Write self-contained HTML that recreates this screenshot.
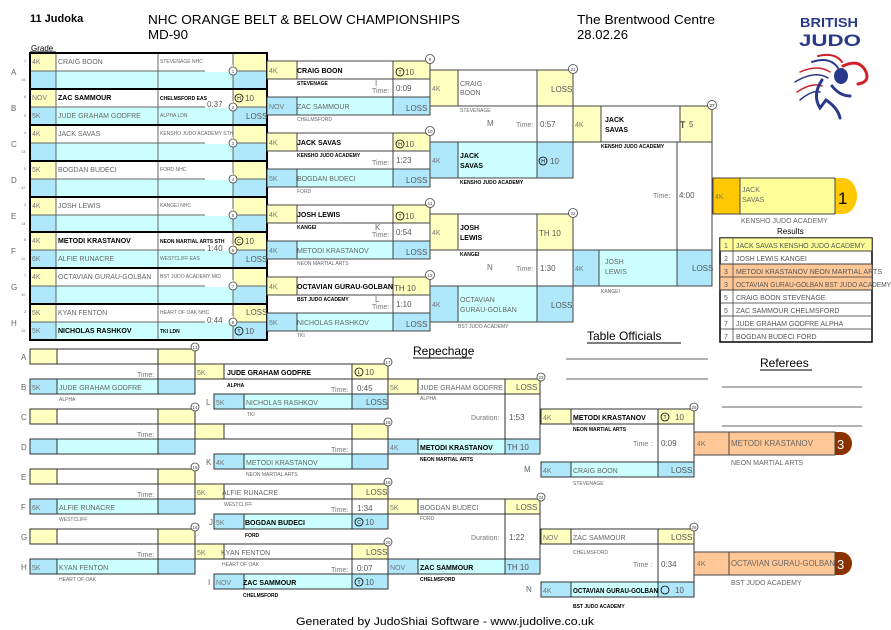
<!DOCTYPE html>
<html><head><meta charset="utf-8"><style>
body{margin:0;background:#fff}
svg{display:block}
text{font-family:"Liberation Sans",sans-serif}
.n{font-size:7px;fill:#666}
.nb{font-size:7px;font-weight:bold;fill:#000}
.c{font-size:5px;fill:#666}
.cb{font-size:5px;font-weight:bold;fill:#000}
.g{font-size:7px;fill:#777}
.s{font-size:8px;fill:#555}
.t{font-size:7px;fill:#777}
.tv{font-size:8px;fill:#555}
.m{font-size:4px;fill:#777}
.l{font-size:8px;fill:#666}
</style></head><body>
<svg width="891" height="630" viewBox="0 0 891 630" xmlns="http://www.w3.org/2000/svg">
<defs>
<g id="p1" stroke="#666" stroke-width="1">
<rect x="30" y="0" width="26" height="18" fill="#ffffc0"/><rect x="56" y="0" width="102" height="18" fill="#fff"/><rect x="158" y="0" width="75" height="18" fill="#fff"/><rect x="233" y="0" width="34" height="18" fill="#ffffc0"/>
<rect x="30" y="18" width="26" height="18" fill="#aee8fa"/><rect x="56" y="18" width="102" height="18" fill="#ccffff"/><rect x="158" y="18" width="75" height="18" fill="#ccffff"/><rect x="233" y="18" width="34" height="18" fill="#aee8fa"/>
<rect x="205" y="12" width="28" height="7" fill="#fff" stroke="none"/>
<rect x="30" y="0" width="237" height="36" fill="none" stroke="#000" stroke-width="2"/>
</g>
<g id="p2" stroke="#444" stroke-width="1">
<rect x="267" y="0" width="30" height="18" fill="#ffffc0"/><rect x="297" y="0" width="96" height="18" fill="#fff"/><rect x="393" y="0" width="37" height="18" fill="#ffffc0"/>
<rect x="393" y="18" width="37" height="18" fill="#fff"/>
<rect x="267" y="36" width="30" height="18" fill="#aee8fa"/><rect x="297" y="36" width="96" height="18" fill="#ccffff"/><rect x="393" y="36" width="37" height="18" fill="#aee8fa"/>
</g>
<g id="p3" stroke="#444" stroke-width="1">
<rect x="430" y="0" width="28" height="36" fill="#ffffc0"/><rect x="458" y="0" width="79" height="36" fill="#fff"/><rect x="537" y="0" width="36" height="36" fill="#ffffc0"/>
<rect x="537" y="36" width="36" height="36" fill="#fff"/>
<rect x="430" y="72" width="28" height="36" fill="#aee8fa"/><rect x="458" y="72" width="79" height="36" fill="#ccffff"/><rect x="537" y="72" width="36" height="36" fill="#aee8fa"/>
</g>
<g id="r1" stroke="#333" stroke-width="1">
<rect x="30" y="0" width="27" height="15" fill="#ffffc0"/><rect x="57" y="0" width="101" height="15" fill="#fff"/><rect x="158" y="0" width="37" height="15" fill="#ffffc0"/>
<rect x="158" y="15" width="37" height="15" fill="#fff"/>
<rect x="30" y="30" width="27" height="15" fill="#aee8fa"/><rect x="57" y="30" width="101" height="15" fill="#ccffff"/><rect x="158" y="30" width="37" height="15" fill="#aee8fa"/>
</g>
<g id="r2" stroke="#333" stroke-width="1">
<rect x="195" y="0" width="29" height="15" fill="#ffffc0"/><rect x="224" y="0" width="128" height="15" fill="#fff"/><rect x="352" y="0" width="36" height="15" fill="#ffffc0"/>
<rect x="352" y="15" width="36" height="15" fill="#fff"/>
<rect x="214" y="30" width="30" height="15" fill="#aee8fa"/><rect x="244" y="30" width="108" height="15" fill="#ccffff"/><rect x="352" y="30" width="36" height="15" fill="#aee8fa"/>
</g>
<g id="r3" stroke="#333" stroke-width="1">
<rect x="388" y="0" width="30" height="15" fill="#ffffc0"/><rect x="418" y="0" width="87" height="15" fill="#fff"/><rect x="505" y="0" width="35" height="15" fill="#ffffc0"/>
<rect x="505" y="15" width="35" height="45" fill="#fff"/>
<rect x="388" y="60" width="30" height="15" fill="#aee8fa"/><rect x="418" y="60" width="87" height="15" fill="#ccffff"/><rect x="505" y="60" width="35" height="15" fill="#aee8fa"/>
</g>
<g id="r4" stroke="#333" stroke-width="1">
<rect x="541" y="0" width="30" height="15" fill="#ffffc0"/><rect x="571" y="0" width="87" height="15" fill="#fff"/><rect x="658" y="0" width="36" height="15" fill="#ffffc0"/>
<rect x="658" y="15" width="36" height="38" fill="#fff"/>
<rect x="541" y="53" width="30" height="15" fill="#aee8fa"/><rect x="571" y="53" width="87" height="15" fill="#ccffff"/><rect x="658" y="53" width="36" height="15" fill="#aee8fa"/>
</g>
</defs>

<!-- header -->
<text x="30" y="22" font-size="11" font-weight="bold">11 Judoka</text>
<text x="148" y="24" font-size="13" textLength="312" lengthAdjust="spacingAndGlyphs">NHC ORANGE BELT &amp; BELOW CHAMPIONSHIPS</text>
<text x="148" y="39" font-size="13" textLength="40" lengthAdjust="spacingAndGlyphs">MD-90</text>
<text x="577" y="24" font-size="13" textLength="138" lengthAdjust="spacingAndGlyphs">The Brentwood Centre</text>
<text x="577" y="39" font-size="13" textLength="51" lengthAdjust="spacingAndGlyphs">28.02.26</text>
<text x="31" y="51" font-size="8">Grade</text>
<line x1="30" y1="52" x2="56" y2="52" stroke="#000"/>
<!-- logo -->
<text x="800" y="27" font-size="13" font-weight="bold" fill="#2a3a8a" textLength="58" lengthAdjust="spacingAndGlyphs">BRITISH</text>
<text x="799" y="46" font-size="17" font-weight="bold" fill="#2a3a8a" textLength="62" lengthAdjust="spacingAndGlyphs">JUDO</text>
<g fill="none" stroke-linecap="round">
<path d="M818 56 Q835 52 842 62" stroke="#d0202a" stroke-width="2"/>
<path d="M812 62 Q830 56 838 68" stroke="#2a3a8a" stroke-width="2"/>
<path d="M800 72 Q818 64 830 72" stroke="#d0202a" stroke-width="1.5"/>
<path d="M795 82 Q815 70 828 78" stroke="#2a3a8a" stroke-width="1.5"/>
<path d="M797 92 Q812 82 822 86" stroke="#d0202a" stroke-width="1.5"/>
<path d="M800 100 Q812 90 820 92" stroke="#2a3a8a" stroke-width="1.5"/>
<path d="M843 66 Q860 58 866 72 Q870 82 858 84" stroke="#d0202a" stroke-width="3"/>
<path d="M822 80 Q812 95 820 108 L826 100 Q838 108 840 118" stroke="#2a3a8a" stroke-width="3"/>
<path d="M832 86 Q840 96 850 96" stroke="#2a3a8a" stroke-width="3"/>
</g>
<ellipse cx="841" cy="76" rx="7" ry="8" fill="#2a3a8a"/>

<!-- Round 1 -->
<use href="#p1" y="53"/><use href="#p1" y="89"/><use href="#p1" y="125"/><use href="#p1" y="161"/>
<use href="#p1" y="197"/><use href="#p1" y="232"/><use href="#p1" y="268"/><use href="#p1" y="304"/>
<g class="l"><text x="11" y="75">A</text><text x="11" y="111">B</text><text x="11" y="147">C</text><text x="11" y="183">D</text><text x="11" y="219">E</text><text x="11" y="254">F</text><text x="11" y="290">G</text><text x="11" y="326">H</text></g>
<g class="m" font-size="5"><text x="24" y="62">1</text><text x="21" y="81">16</text><text x="24" y="98">8</text><text x="24" y="117">9</text><text x="24" y="134">4</text><text x="21" y="153">13</text><text x="24" y="170">5</text><text x="21" y="189">12</text><text x="24" y="206">3</text><text x="21" y="225">14</text><text x="24" y="241">6</text><text x="21" y="260">11</text><text x="24" y="277">7</text><text x="21" y="296">10</text><text x="24" y="313">2</text><text x="21" y="332">15</text></g>
<g class="g"><text x="32" y="64">4K</text><text x="32" y="100">NOV</text><text x="32" y="118">5K</text><text x="32" y="136">4K</text><text x="32" y="172">5K</text><text x="32" y="208">4K</text><text x="32" y="243">4K</text><text x="32" y="261">6K</text><text x="32" y="279">4K</text><text x="32" y="315">5K</text><text x="32" y="333">5K</text></g>
<text class="n" x="58" y="64">CRAIG BOON</text>
<text class="nb" x="58" y="100">ZAC SAMMOUR</text>
<text class="n" x="58" y="118">JUDE GRAHAM GODFRE</text>
<text class="n" x="58" y="136">JACK SAVAS</text>
<text class="n" x="58" y="172">BOGDAN BUDECI</text>
<text class="n" x="58" y="208">JOSH LEWIS</text>
<text class="nb" x="58" y="243">METODI KRASTANOV</text>
<text class="n" x="58" y="261">ALFIE RUNACRE</text>
<text class="n" x="58" y="279">OCTAVIAN GURAU-GOLBAN</text>
<text class="n" x="58" y="315">KYAN FENTON</text>
<text class="nb" x="58" y="333">NICHOLAS RASHKOV</text>
<g class="c" font-size="4.5"><text x="160" y="63">STEVENAGE NHC</text><text class="cb" x="160" y="100" font-size="4.5">CHELMSFORD EAS</text><text x="160" y="117">ALPHA LDN</text><text x="160" y="135">KENSHO JUDO ACADEMY STH</text><text x="160" y="171">FORD NHC</text><text x="160" y="207">KANGEI NHC</text><text class="cb" x="160" y="243" font-size="4.5">NEON MARTIAL ARTS STH</text><text x="160" y="260">WESTCLIFF EAS</text><text x="160" y="278">BST JUDO ACADEMY MID</text><text x="160" y="314">HEART OF OAK NHC</text><text class="cb" x="160" y="333" font-size="4.5">TKI LDN</text></g>
<g class="tv" font-size="7"><text x="207" y="107">0:37</text><text x="207" y="251">1:40</text><text x="207" y="323">0:44</text></g>
<g class="s"><text x="245" y="101">10</text><text x="246" y="119">LOSS</text><text x="245" y="244">10</text><text x="246" y="262">LOSS</text><text x="246" y="315">LOSS</text><text x="245" y="334">10</text></g>
<g fill="none" stroke="#000" stroke-width="0.8"><circle cx="239" cy="98" r="4"/><circle cx="239" cy="241" r="4"/><circle cx="239" cy="331" r="4"/></g>
<g font-size="5" text-anchor="middle"><text x="239" y="100">H</text><text x="239" y="243">C</text><text x="239" y="333">T</text></g>
<g fill="#fff" stroke="#444" stroke-width="0.8"><circle cx="233" cy="71" r="4"/><circle cx="233" cy="107" r="4"/><circle cx="233" cy="143" r="4"/><circle cx="233" cy="179" r="4"/><circle cx="233" cy="215" r="4"/><circle cx="233" cy="250" r="4"/><circle cx="233" cy="286" r="4"/><circle cx="233" cy="322" r="4"/></g>
<g font-size="4.5" text-anchor="middle" fill="#444"><text x="233" y="73">1</text><text x="233" y="109">2</text><text x="233" y="145">3</text><text x="233" y="181">4</text><text x="233" y="217">5</text><text x="233" y="252">6</text><text x="233" y="288">7</text><text x="233" y="324">8</text></g>

<!-- Round 2 -->
<use href="#p2" y="61"/><use href="#p2" y="133"/><use href="#p2" y="205"/><use href="#p2" y="277"/>
<g class="g"><text x="269" y="73">4K</text><text x="269" y="109">NOV</text><text x="269" y="145">4K</text><text x="269" y="181">5K</text><text x="269" y="217">4K</text><text x="269" y="253">4K</text><text x="269" y="289">4K</text><text x="269" y="325">5K</text></g>
<text class="nb" x="297" y="73">CRAIG BOON</text><text class="n" x="297" y="109">ZAC SAMMOUR</text>
<text class="nb" x="297" y="145">JACK SAVAS</text><text class="n" x="297" y="181">BOGDAN BUDECI</text>
<text class="nb" x="297" y="217">JOSH LEWIS</text><text class="n" x="297" y="253">METODI KRASTANOV</text>
<text class="nb" x="297" y="289" textLength="96" lengthAdjust="spacingAndGlyphs">OCTAVIAN GURAU-GOLBAN</text><text class="n" x="297" y="325">NICHOLAS RASHKOV</text>
<g class="cb"><text x="297" y="85">STEVENAGE</text><text x="297" y="157">KENSHO JUDO ACADEMY</text><text x="297" y="229">KANGEI</text><text x="297" y="301">BST JUDO ACADEMY</text></g>
<g class="c"><text x="297" y="121">CHELMSFORD</text><text x="297" y="193">FORD</text><text x="297" y="265">NEON MARTIAL ARTS</text><text x="297" y="337">TKI</text></g>
<g class="t"><text x="372" y="93">Time:</text><text x="372" y="165">Time:</text><text x="372" y="237">Time:</text><text x="372" y="309">Time:</text></g>
<g class="l"><text x="375" y="86">I</text><text x="375" y="230">K</text><text x="375" y="302">L</text></g>
<g class="tv"><text x="396" y="91">0:09</text><text x="396" y="163">1:23</text><text x="396" y="235">0:54</text><text x="396" y="307">1:10</text></g>
<g class="s"><text x="405" y="75">10</text><text x="406" y="111">LOSS</text><text x="405" y="147">10</text><text x="406" y="183">LOSS</text><text x="405" y="219">10</text><text x="406" y="255">LOSS</text><text x="394" y="291">TH 10</text><text x="406" y="327">LOSS</text></g>
<g fill="none" stroke="#000" stroke-width="0.8"><circle cx="400" cy="72" r="4"/><circle cx="400" cy="144" r="4"/><circle cx="400" cy="216" r="4"/></g>
<g font-size="5" text-anchor="middle"><text x="400" y="74">T</text><text x="400" y="146">H</text><text x="400" y="218">T</text></g>
<g fill="#fff" stroke="#444" stroke-width="0.8"><circle cx="430" cy="59" r="4.5"/><circle cx="430" cy="131" r="4.5"/><circle cx="430" cy="203" r="4.5"/><circle cx="430" cy="275" r="4.5"/></g>
<g font-size="4.5" text-anchor="middle" fill="#444"><text x="430" y="61">9</text><text x="430" y="133">10</text><text x="430" y="205">11</text><text x="430" y="277">12</text></g>

<!-- Round 3 -->
<use href="#p3" y="70"/><use href="#p3" y="214"/>
<g class="g"><text x="432" y="91">4K</text><text x="432" y="163">4K</text><text x="432" y="235">4K</text><text x="432" y="307">4K</text></g>
<text class="n" x="460" y="86">CRAIG</text><text class="n" x="460" y="95">BOON</text>
<text class="nb" x="460" y="158">JACK</text><text class="nb" x="460" y="168">SAVAS</text>
<text class="nb" x="460" y="230">JOSH</text><text class="nb" x="460" y="240">LEWIS</text>
<text class="n" x="460" y="302">OCTAVIAN</text><text class="n" x="460" y="312">GURAU-GOLBAN</text>
<g class="c"><text x="460" y="112">STEVENAGE</text><text x="458" y="328">BST JUDO ACADEMY</text></g>
<g class="cb"><text x="460" y="184">KENSHO JUDO ACADEMY</text><text x="460" y="256">KANGEI</text></g>
<g class="l"><text x="487" y="126">M</text><text x="487" y="270">N</text></g>
<g class="t"><text x="516" y="127">Time:</text><text x="516" y="271">Time:</text></g>
<g class="tv"><text x="540" y="127">0:57</text><text x="540" y="271">1:30</text></g>
<g class="s"><text x="551" y="92">LOSS</text><text x="550" y="164">10</text><text x="539" y="236">TH 10</text><text x="551" y="308">LOSS</text></g>
<circle cx="543" cy="161" r="4" fill="none" stroke="#000" stroke-width="0.8"/><text x="543" y="163" font-size="5" text-anchor="middle">H</text>
<g fill="#fff" stroke="#444" stroke-width="0.8"><circle cx="573" cy="69" r="4.5"/><circle cx="573" cy="213" r="4.5"/></g>
<g font-size="4.5" text-anchor="middle" fill="#444"><text x="573" y="71">21</text><text x="573" y="215">22</text></g>

<!-- Final -->
<g stroke="#444" stroke-width="1">
<rect x="573" y="106" width="28" height="36" fill="#ffffc0"/><rect x="601" y="106" width="79" height="36" fill="#fff"/><rect x="680" y="106" width="32" height="36" fill="#ffffc0"/>
<line x1="677" y1="142" x2="677" y2="250"/><line x1="712" y1="142" x2="712" y2="250"/>
<rect x="573" y="250" width="26" height="36" fill="#aee8fa"/><rect x="599" y="250" width="78" height="36" fill="#ccffff"/><rect x="677" y="250" width="35" height="36" fill="#aee8fa"/>
</g>
<text class="g" x="575" y="127">4K</text><text class="g" x="575" y="271">4K</text>
<text class="nb" x="605" y="122">JACK</text><text class="nb" x="605" y="132">SAVAS</text>
<text class="n" x="605" y="264">JOSH</text><text class="n" x="605" y="274">LEWIS</text>
<text class="cb" x="601" y="148">KENSHO JUDO ACADEMY</text><text class="c" x="601" y="293">KANGEI</text>
<text class="t" x="653" y="198">Time:</text><text class="tv" x="679" y="198">4:00</text>
<text x="680" y="128" font-size="9">T</text><text class="s" x="689" y="127">5</text><text class="s" x="692" y="271">LOSS</text>
<circle cx="712" cy="105" r="4.5" fill="#fff" stroke="#444" stroke-width="0.8"/><text x="712" y="107" font-size="4.5" text-anchor="middle">27</text>
<!-- winner -->
<path d="M835 178 h8 a14 18 0 0 1 0 36 h-8 z" fill="#ffc800"/>
<rect x="713" y="178" width="27" height="36" fill="#ffc800" stroke="#444"/><rect x="740" y="178" width="95" height="36" fill="#ffff99" stroke="#444"/>
<text class="g" x="715" y="199">4K</text><text class="n" x="742" y="192">JACK</text><text class="n" x="742" y="202">SAVAS</text>
<text x="838" y="204" font-size="17">1</text>
<text x="741" y="223" font-size="7" fill="#666">KENSHO JUDO ACADEMY</text>
<text x="777" y="234" font-size="8">Results</text>
<g stroke="#333" stroke-width="0.7" font-size="7">
<rect x="720" y="238" width="152" height="104" fill="#fff" stroke="#000" stroke-width="1.5"/>
<rect x="720" y="238" width="152" height="13" fill="#ffff99"/><rect x="720" y="264" width="152" height="26" fill="#ffc896"/>
<line x1="720" y1="251" x2="872" y2="251"/><line x1="720" y1="264" x2="872" y2="264"/><line x1="720" y1="277" x2="872" y2="277"/><line x1="720" y1="290" x2="872" y2="290"/><line x1="720" y1="303" x2="872" y2="303"/><line x1="720" y1="316" x2="872" y2="316"/><line x1="720" y1="329" x2="872" y2="329"/><line x1="733" y1="238" x2="733" y2="342"/>
</g>
<g font-size="7" fill="#555" stroke="none"><text x="724" y="248">1</text><text x="724" y="261">2</text><text x="724" y="274">3</text><text x="724" y="287">3</text><text x="724" y="300">5</text><text x="724" y="313">5</text><text x="724" y="326">7</text><text x="724" y="339">7</text>
<text x="736" y="248" textLength="129" lengthAdjust="spacingAndGlyphs">JACK SAVAS KENSHO JUDO ACADEMY</text><text x="736" y="261">JOSH LEWIS KANGEI</text><text x="736" y="274" textLength="146" lengthAdjust="spacingAndGlyphs">METODI KRASTANOV NEON MARTIAL ARTS</text><text x="736" y="287" textLength="155" lengthAdjust="spacingAndGlyphs">OCTAVIAN GURAU-GOLBAN BST JUDO ACADEMY</text><text x="736" y="300">CRAIG BOON STEVENAGE</text><text x="736" y="313">ZAC SAMMOUR CHELMSFORD</text><text x="736" y="326">JUDE GRAHAM GODFRE ALPHA</text><text x="736" y="339">BOGDAN BUDECI FORD</text></g>

<!-- Officials -->
<text x="587" y="340" font-size="12">Table Officials</text><line x1="587" y1="343" x2="681" y2="343" stroke="#000"/>
<g stroke="#666"><line x1="566" y1="359" x2="708" y2="359"/><line x1="566" y1="379" x2="708" y2="379"/>
<line x1="722" y1="387" x2="862" y2="387"/><line x1="722" y1="407" x2="862" y2="407"/><line x1="722" y1="426" x2="862" y2="426"/></g>
<text x="760" y="367" font-size="12">Referees</text><line x1="760" y1="370" x2="812" y2="370" stroke="#000"/>
<text x="413" y="355" font-size="12">Repechage</text><line x1="413" y1="358" x2="472" y2="358" stroke="#000"/>

<!-- Repechage R1 -->
<use href="#r1" y="349"/><use href="#r1" y="409"/><use href="#r1" y="469"/><use href="#r1" y="529"/>
<g class="l"><text x="21" y="360">A</text><text x="21" y="390">B</text><text x="21" y="420">C</text><text x="21" y="450">D</text><text x="21" y="480">E</text><text x="21" y="510">F</text><text x="21" y="540">G</text><text x="21" y="570">H</text></g>
<g class="t"><text x="137" y="377">Time:</text><text x="137" y="437">Time:</text><text x="137" y="497">Time:</text><text x="137" y="557">Time:</text></g>
<g class="g"><text x="32" y="390">5K</text><text x="32" y="510">6K</text><text x="32" y="570">5K</text></g>
<g class="n"><text x="59" y="390">JUDE GRAHAM GODFRE</text><text x="59" y="510">ALFIE RUNACRE</text><text x="59" y="570">KYAN FENTON</text></g>
<g class="c"><text x="59" y="401">ALPHA</text><text x="59" y="521">WESTCLIFF</text><text x="59" y="581">HEART OF OAK</text></g>
<g fill="#fff" stroke="#444" stroke-width="0.8"><circle cx="195" cy="347" r="4"/><circle cx="195" cy="407" r="4"/><circle cx="195" cy="467" r="4"/><circle cx="195" cy="527" r="4"/></g>
<g font-size="4.5" text-anchor="middle" fill="#444"><text x="195" y="349">13</text><text x="195" y="409">14</text><text x="195" y="469">15</text><text x="195" y="529">16</text></g>

<!-- Repechage R2 -->
<use href="#r2" y="364"/><use href="#r2" y="424"/><use href="#r2" y="484"/><use href="#r2" y="544"/>
<g class="g"><text x="197" y="375">5K</text><text x="197" y="495">6K</text><text x="197" y="555">5K</text><text x="216" y="405">5K</text><text x="216" y="465">4K</text><text x="216" y="525">5K</text><text x="216" y="585">NOV</text></g>
<text class="nb" x="227" y="375">JUDE GRAHAM GODFRE</text><text class="n" x="246" y="405">NICHOLAS RASHKOV</text>
<text class="n" x="246" y="465">METODI KRASTANOV</text>
<text class="n" x="222" y="495">ALFIE RUNACRE</text><text class="nb" x="245" y="525">BOGDAN BUDECI</text>
<text class="n" x="221" y="555">KYAN FENTON</text><text class="nb" x="243" y="585">ZAC SAMMOUR</text>
<g class="cb"><text x="227" y="387">ALPHA</text><text x="245" y="537">FORD</text><text x="243" y="597">CHELMSFORD</text></g>
<g class="c"><text x="247" y="416">TKI</text><text x="246" y="476">NEON MARTIAL ARTS</text><text x="224" y="506">WESTCLIFF</text><text x="222" y="566">HEART OF OAK</text></g>
<g class="l"><text x="206" y="405">L</text><text x="206" y="465">K</text><text x="209" y="525">J</text><text x="208" y="585">I</text></g>
<g class="t"><text x="331" y="392">Time:</text><text x="331" y="452">Time:</text><text x="331" y="512">Time:</text><text x="331" y="572">Time:</text></g>
<g class="tv"><text x="357" y="391">0:45</text><text x="357" y="511">1:34</text><text x="357" y="571">0:07</text></g>
<g class="s"><text x="365" y="375">10</text><text x="366" y="405">LOSS</text><text x="366" y="495">LOSS</text><text x="365" y="525">10</text><text x="366" y="555">LOSS</text><text x="365" y="585">10</text></g>
<g fill="none" stroke="#000" stroke-width="0.8"><circle cx="359" cy="372" r="4"/><circle cx="359" cy="522" r="4"/><circle cx="359" cy="582" r="4"/></g>
<g font-size="5" text-anchor="middle"><text x="359" y="374">L</text><text x="359" y="524">C</text><text x="359" y="584">T</text></g>
<g fill="#fff" stroke="#444" stroke-width="0.8"><circle cx="388" cy="362" r="4"/><circle cx="388" cy="422" r="4"/><circle cx="388" cy="482" r="4"/><circle cx="388" cy="542" r="4"/></g>
<g font-size="4.5" text-anchor="middle" fill="#444"><text x="388" y="364">17</text><text x="388" y="424">18</text><text x="388" y="484">19</text><text x="388" y="544">20</text></g>

<!-- Repechage R3 -->
<use href="#r3" y="379"/><use href="#r3" y="499"/>
<g class="g"><text x="390" y="390">5K</text><text x="390" y="450">4K</text><text x="390" y="510">5K</text><text x="390" y="570">NOV</text></g>
<text class="n" x="420" y="390">JUDE GRAHAM GODFRE</text><text class="nb" x="420" y="450">METODI KRASTANOV</text>
<text class="n" x="420" y="510">BOGDAN BUDECI</text><text class="nb" x="420" y="570">ZAC SAMMOUR</text>
<g class="c"><text x="420" y="400">ALPHA</text><text x="420" y="520">FORD</text></g>
<g class="cb"><text x="420" y="461">NEON MARTIAL ARTS</text><text x="420" y="581">CHELMSFORD</text></g>
<g class="t"><text x="471" y="420">Duration:</text><text x="471" y="540">Duration:</text></g>
<g class="tv"><text x="509" y="420">1:53</text><text x="509" y="540">1:22</text></g>
<g class="s"><text x="516" y="390">LOSS</text><text x="507" y="450">TH 10</text><text x="516" y="510">LOSS</text><text x="507" y="570">TH 10</text></g>
<g fill="#fff" stroke="#444" stroke-width="0.8"><circle cx="541" cy="377" r="4"/><circle cx="541" cy="497" r="4"/></g>
<g font-size="4.5" text-anchor="middle" fill="#444"><text x="541" y="379">23</text><text x="541" y="499">24</text></g>

<!-- Bronze -->
<use href="#r4" y="409"/><use href="#r4" y="529"/>
<g class="g"><text x="543" y="420">4K</text><text x="543" y="473">4K</text><text x="543" y="540">NOV</text><text x="543" y="593">4K</text></g>
<text class="nb" x="573" y="420">METODI KRASTANOV</text><text class="n" x="573" y="473">CRAIG BOON</text>
<text class="n" x="573" y="540">ZAC SAMMOUR</text><text class="nb" x="573" y="593" textLength="85" lengthAdjust="spacingAndGlyphs">OCTAVIAN GURAU-GOLBAN</text>
<text class="cb" x="573" y="431">NEON MARTIAL ARTS</text><text class="c" x="573" y="485">STEVENAGE</text>
<text class="c" x="573" y="554">CHELMSFORD</text><text class="cb" x="573" y="608">BST JUDO ACADEMY</text>
<g class="l"><text x="524" y="472">M</text><text x="526" y="592">N</text></g>
<g class="t"><text x="633" y="446">Time :</text><text x="633" y="567">Time :</text></g>
<g class="tv"><text x="661" y="446">0:09</text><text x="661" y="567">0:34</text></g>
<g class="s"><text x="675" y="420">10</text><text x="671" y="473">LOSS</text><text x="671" y="540">LOSS</text><text x="675" y="593">10</text></g>
<circle cx="665" cy="417" r="4" fill="none" stroke="#000" stroke-width="0.8"/><text x="665" y="419" font-size="5" text-anchor="middle">T</text>
<circle cx="665" cy="590" r="4" fill="none" stroke="#000" stroke-width="0.8"/>
<g fill="#fff" stroke="#444" stroke-width="0.8"><circle cx="694" cy="407" r="4"/><circle cx="694" cy="527" r="4"/></g>
<g font-size="4.5" text-anchor="middle" fill="#444"><text x="694" y="409">25</text><text x="694" y="529">26</text></g>
<!-- bronze results -->
<path d="M835 432 h6 a11 11.5 0 0 1 0 23 h-6 z" fill="#8b3300"/>
<rect x="694" y="432" width="35" height="23" fill="#ffc896" stroke="#444"/><rect x="729" y="432" width="106" height="23" fill="#ffc896" stroke="#444"/>
<text class="g" x="697" y="446">4K</text><text x="731" y="446" font-size="8" fill="#666">METODI KRASTANOV</text>
<text x="837" y="449" font-size="13" fill="#fff">3</text><text x="731" y="465" font-size="7" fill="#666">NEON MARTIAL ARTS</text>
<path d="M835 552 h6 a11 11.5 0 0 1 0 23 h-6 z" fill="#8b3300"/>
<rect x="694" y="552" width="35" height="23" fill="#ffc896" stroke="#444"/><rect x="729" y="552" width="106" height="23" fill="#ffc896" stroke="#444"/>
<text class="g" x="697" y="566">4K</text><text x="731" y="566" font-size="8" fill="#666" textLength="104" lengthAdjust="spacingAndGlyphs">OCTAVIAN GURAU-GOLBAN</text>
<text x="837" y="569" font-size="13" fill="#fff">3</text><text x="731" y="585" font-size="7" fill="#666">BST JUDO ACADEMY</text>

<text x="445" y="625" font-size="11" text-anchor="middle" textLength="298" lengthAdjust="spacingAndGlyphs">Generated by JudoShiai Software - www.judolive.co.uk</text>
</svg>
</body></html>
